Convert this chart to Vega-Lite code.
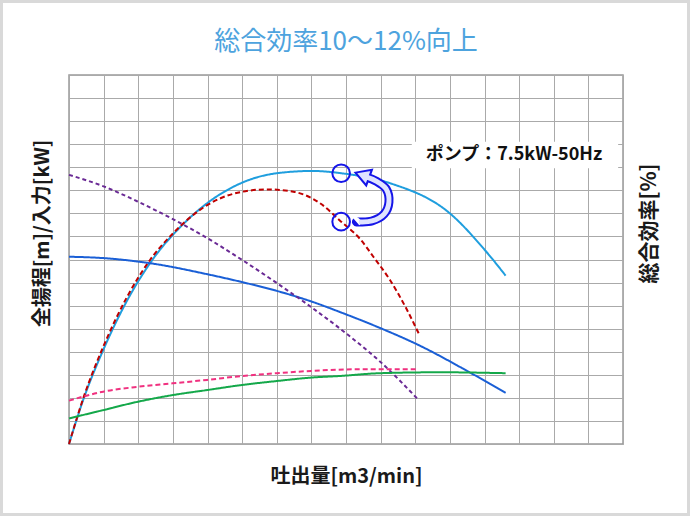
{
  "$schema": "https://vega.github.io/schema/vega-lite/v6.json",
  "autosize": "none",
  "width": 554,
  "height": 369,
  "padding": {"left": 69, "top": 75, "right": 67, "bottom": 72},
  "background": "white",
  "title": {"text": "総合効率10～12%向上", "font": "Noto Sans CJK JP", "fontSize": 26, "fontWeight": "normal", "color": "#4da3de", "anchor": "middle", "frame": "group", "offset": -81, "baseline": "bottom"},
  "config": {
    "view": {"stroke": "#999999", "strokeWidth": 1.5},
    "axis": {"gridColor": "#aaaaaa", "gridWidth": 1, "gridOpacity": 1, "titleFont": "Noto Sans CJK JP", "titleFontWeight": "bold", "titleFontSize": 17, "titleColor": "#1a1a1a"},
    "axisX": {"values": [0,1,2,3,4,5,6,7,8,9,10,11,12,13,14,15,16], "labels": false, "ticks": false, "domain": false, "grid": true, "titlePadding": 22, "titleFontSize": 20}
  },
  "datasets": {
    "curves": [
      {"s": "eff_after", "x": 0, "y": 0}, {"s": "eff_after", "x": 0.41, "y": 1.91}, {"s": "eff_after", "x": 0.99, "y": 4.08}, {"s": "eff_after", "x": 1.6, "y": 6.0}, {"s": "eff_after", "x": 2.34, "y": 7.84}, {"s": "eff_after", "x": 3.35, "y": 9.61}, {"s": "eff_after", "x": 3.98, "y": 10.43}, {"s": "eff_after", "x": 5.03, "y": 11.35}, {"s": "eff_after", "x": 6.0, "y": 11.74}, {"s": "eff_after", "x": 7.05, "y": 11.84}, {"s": "eff_after", "x": 7.86, "y": 11.74}, {"s": "eff_after", "x": 9.27, "y": 11.31}, {"s": "eff_after", "x": 11.0, "y": 10.0}, {"s": "eff_after", "x": 12.01, "y": 8.41}, {"s": "eff_after", "x": 12.25, "y": 7.98}, {"s": "eff_after", "x": 12.61, "y": 7.3},
      {"s": "eff_before", "x": 0, "y": 0}, {"s": "eff_before", "x": 0.45, "y": 2.15}, {"s": "eff_before", "x": 0.99, "y": 4.22}, {"s": "eff_before", "x": 2.34, "y": 7.98}, {"s": "eff_before", "x": 3.01, "y": 9.14}, {"s": "eff_before", "x": 3.98, "y": 10.35}, {"s": "eff_before", "x": 4.75, "y": 10.85}, {"s": "eff_before", "x": 5.71, "y": 11.04}, {"s": "eff_before", "x": 6.48, "y": 10.94}, {"s": "eff_before", "x": 7.25, "y": 10.44}, {"s": "eff_before", "x": 7.86, "y": 9.64}, {"s": "eff_before", "x": 8.4, "y": 8.9}, {"s": "eff_before", "x": 8.79, "y": 8.12}, {"s": "eff_before", "x": 9.27, "y": 7.11}, {"s": "eff_before", "x": 9.75, "y": 5.85}, {"s": "eff_before", "x": 10.12, "y": 4.73},
      {"s": "head_after", "x": 0, "y": 8.12}, {"s": "head_after", "x": 1, "y": 8.06}, {"s": "head_after", "x": 2.34, "y": 7.84}, {"s": "head_after", "x": 4, "y": 7.36}, {"s": "head_after", "x": 5, "y": 7.02}, {"s": "head_after", "x": 6, "y": 6.64}, {"s": "head_after", "x": 7, "y": 6.18}, {"s": "head_after", "x": 7.83, "y": 5.72}, {"s": "head_after", "x": 9, "y": 5.02}, {"s": "head_after", "x": 10, "y": 4.36}, {"s": "head_after", "x": 11.58, "y": 3.1}, {"s": "head_after", "x": 12.61, "y": 2.22},
      {"s": "head_before", "x": 0, "y": 11.67}, {"s": "head_before", "x": 1, "y": 11.17}, {"s": "head_before", "x": 2, "y": 10.5}, {"s": "head_before", "x": 3, "y": 9.75}, {"s": "head_before", "x": 4, "y": 8.92}, {"s": "head_before", "x": 5, "y": 7.98}, {"s": "head_before", "x": 6, "y": 6.98}, {"s": "head_before", "x": 7, "y": 5.93}, {"s": "head_before", "x": 8, "y": 4.8}, {"s": "head_before", "x": 9, "y": 3.55}, {"s": "head_before", "x": 10.07, "y": 1.95},
      {"s": "power_before", "x": 0, "y": 1.88}, {"s": "power_before", "x": 0.99, "y": 2.27}, {"s": "power_before", "x": 1.98, "y": 2.48}, {"s": "power_before", "x": 2.99, "y": 2.63}, {"s": "power_before", "x": 3.99, "y": 2.78}, {"s": "power_before", "x": 5.0, "y": 2.95}, {"s": "power_before", "x": 6.0, "y": 3.07}, {"s": "power_before", "x": 6.99, "y": 3.17}, {"s": "power_before", "x": 8.4, "y": 3.24}, {"s": "power_before", "x": 10.09, "y": 3.24},
      {"s": "power_after", "x": 0, "y": 1.11}, {"s": "power_after", "x": 0.99, "y": 1.47}, {"s": "power_after", "x": 1.98, "y": 1.83}, {"s": "power_after", "x": 2.99, "y": 2.12}, {"s": "power_after", "x": 3.99, "y": 2.34}, {"s": "power_after", "x": 5.0, "y": 2.56}, {"s": "power_after", "x": 6.0, "y": 2.73}, {"s": "power_after", "x": 6.99, "y": 2.88}, {"s": "power_after", "x": 7.83, "y": 2.95}, {"s": "power_after", "x": 8.98, "y": 3.07}, {"s": "power_after", "x": 10.71, "y": 3.11}, {"s": "power_after", "x": 12.61, "y": 3.07}
    ],
    "arc": [
      {"i": 1, "x": 8.3, "y": 9.63}, {"i": 2, "x": 8.37, "y": 9.63}, {"i": 3, "x": 8.75, "y": 9.67}, {"i": 4, "x": 9.1, "y": 9.97}, {"i": 5, "x": 9.24, "y": 10.49}, {"i": 6, "x": 9.16, "y": 11.06}, {"i": 7, "x": 8.87, "y": 11.4}, {"i": 8, "x": 8.58, "y": 11.58}
    ],
    "head": [{"x": 8.47, "y": 11.66}],
    "circles": [{"x": 7.86, "y": 11.74}, {"x": 7.86, "y": 9.64}],
    "label": [{"x": 9.9, "x2": 15.86, "y": 11.96, "y2": 13.11, "xc": 12.85, "yc": 12.53, "text": "ポンプ：7.5kW-50Hz"}],
    "frame": [{"x": -1.949, "x2": 17.892, "y": -3.057, "y2": 19.187}]
  },
  "resolve": {"axis": {"y": "independent"}},
  "layer": [
    {
      "data": {"name": "frame"},
      "mark": {"type": "rect", "fillOpacity": 0, "stroke": "#d9d9d9", "strokeWidth": 3},
      "encoding": {
        "x": {"field": "x", "type": "quantitative", "title": "吐出量[m3/min]", "scale": {"domain": [0, 16], "nice": false, "zero": false}},
        "x2": {"field": "x2"},
        "y": {"field": "y", "type": "quantitative", "scale": {"domain": [0, 16], "nice": false, "zero": false}, "axis": null},
        "y2": {"field": "y2"}
      }
    },
    {
      "data": {"name": "curves"},
      "mark": {"type": "line", "interpolate": "monotone", "strokeWidth": 2},
      "encoding": {
        "x": {"field": "x", "type": "quantitative", "title": "吐出量[m3/min]", "scale": {"domain": [0, 16], "nice": false, "zero": false}},
        "y": {"field": "y", "type": "quantitative", "scale": {"domain": [0, 16], "nice": false, "zero": false},
              "axis": {"values": [0,1,2,3,4,5,6,7,8,9,10,11,12,13,14,15,16], "labels": false, "ticks": false, "domain": false, "grid": true, "title": "全揚程[m]/入力[kW]", "titleFontSize": 20, "titleX": -27, "titleY": 158, "titleAngle": -90, "titleAlign": "center", "titleBaseline": "middle"}},
        "color": {"field": "s", "type": "nominal", "legend": null,
                  "scale": {"domain": ["eff_after", "eff_before", "head_after", "head_before", "power_before", "power_after"], "range": ["#1f9ede", "#c00000", "#1a5fd6", "#6a2a95", "#f0307f", "#14a84a"]}},
        "strokeDash": {"field": "s", "type": "nominal", "legend": null,
                  "scale": {"domain": ["eff_after", "eff_before", "head_after", "head_before", "power_before", "power_after"], "range": [[1, 0], [5, 3], [1, 0], [4, 3], [5, 3], [1, 0]]}}
      }
    },
    {
      "data": {"name": "arc"},
      "mark": {"type": "line", "interpolate": "cardinal", "strokeWidth": 9, "color": "#1515e8", "strokeCap": "butt"},
      "encoding": {
        "x": {"field": "x", "type": "quantitative", "title": "吐出量[m3/min]", "scale": {"domain": [0, 16], "nice": false, "zero": false}},
        "y": {"field": "y", "type": "quantitative", "scale": {"domain": [0, 16], "nice": false, "zero": false}, "axis": null},
        "order": {"field": "i", "type": "quantitative"}
      }
    },
    {
      "data": {"name": "head"},
      "mark": {"type": "point", "shape": "triangle-left", "filled": true, "fill": "#dfe3ff", "stroke": "#1515e8", "strokeWidth": 2, "size": 280, "angle": 20, "opacity": 1},
      "encoding": {
        "x": {"field": "x", "type": "quantitative", "title": "吐出量[m3/min]", "scale": {"domain": [0, 16], "nice": false, "zero": false}},
        "y": {"field": "y", "type": "quantitative", "scale": {"domain": [0, 16], "nice": false, "zero": false}, "axis": null}
      }
    },
    {
      "data": {"name": "arc"},
      "transform": [{"filter": "datum.i >= 2"}],
      "mark": {"type": "line", "interpolate": "cardinal", "strokeWidth": 5, "color": "#dfe3ff", "strokeCap": "butt"},
      "encoding": {
        "x": {"field": "x", "type": "quantitative", "title": "吐出量[m3/min]", "scale": {"domain": [0, 16], "nice": false, "zero": false}},
        "y": {"field": "y", "type": "quantitative", "scale": {"domain": [0, 16], "nice": false, "zero": false}, "axis": null},
        "order": {"field": "i", "type": "quantitative"}
      }
    },
    {
      "data": {"name": "circles"},
      "mark": {"type": "point", "shape": "circle", "filled": false, "stroke": "#1515e8", "strokeWidth": 2, "size": 310, "opacity": 1},
      "encoding": {
        "x": {"field": "x", "type": "quantitative", "title": "吐出量[m3/min]", "scale": {"domain": [0, 16], "nice": false, "zero": false}},
        "y": {"field": "y", "type": "quantitative", "scale": {"domain": [0, 16], "nice": false, "zero": false},
              "axis": {"orient": "right", "labels": false, "ticks": false, "domain": false, "grid": false, "title": "総合効率[%]", "titleFontSize": 21, "titleX": 26, "titleY": 148, "titleAngle": -90, "titleAlign": "center", "titleBaseline": "middle"}}
      }
    },
    {
      "data": {"name": "label"},
      "mark": {"type": "rect", "fill": "white"},
      "encoding": {
        "x": {"field": "x", "type": "quantitative", "title": "吐出量[m3/min]", "scale": {"domain": [0, 16], "nice": false, "zero": false}},
        "x2": {"field": "x2"},
        "y": {"field": "y", "type": "quantitative", "scale": {"domain": [0, 16], "nice": false, "zero": false}, "axis": null},
        "y2": {"field": "y2"}
      }
    },
    {
      "data": {"name": "label"},
      "mark": {"type": "text", "font": "Noto Sans CJK JP", "fontSize": 18, "fontWeight": "bold", "color": "#111111", "align": "center", "baseline": "middle"},
      "encoding": {
        "x": {"field": "xc", "type": "quantitative", "title": "吐出量[m3/min]", "scale": {"domain": [0, 16], "nice": false, "zero": false}},
        "y": {"field": "yc", "type": "quantitative", "scale": {"domain": [0, 16], "nice": false, "zero": false}, "axis": null},
        "text": {"field": "text"}
      }
    }
  ]
}
